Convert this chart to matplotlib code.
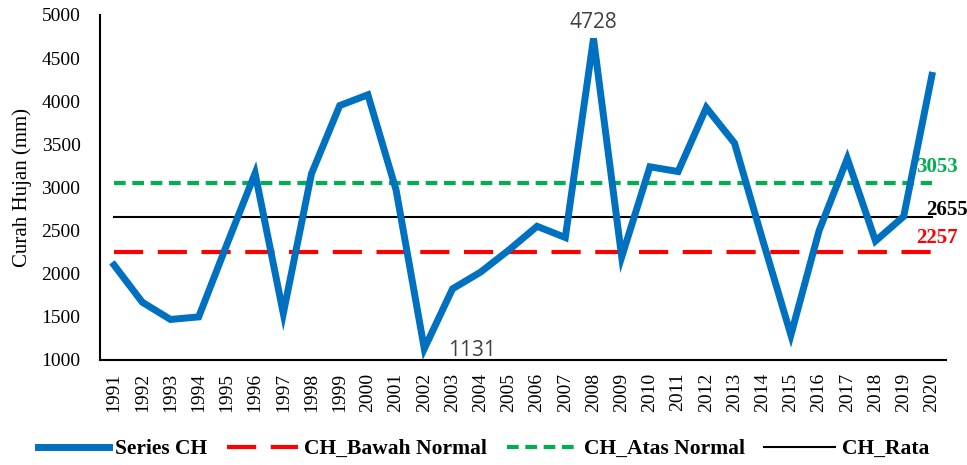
import matplotlib.pyplot as plt

# data
years = [str(y) for y in range(1991, 2021)]
series_ch = [2100, 1670, 1470, 1500, 2340, 3165, 1540, 3160, 3950, 4075,
             2970, 1131, 1825, 2020, 2275, 2550, 2420, 4728, 2195, 3240,
             3185, 3925, 3515, 2390, 1290, 2500, 3335, 2380, 2665, 4300]
ch_bawah = 2257
ch_atas = 3053
ch_rata = 2655

x = list(range(len(years)))

plt.rcParams['font.family'] = ['Liberation Serif', 'DejaVu Serif']

fig = plt.figure(figsize=(9.67, 4.65), dpi=100)
ax = fig.add_axes([100 / 967, 1 - 360 / 465, 846 / 967, 345 / 465])

ax.plot(x, series_ch, color='#0070C0', lw=5, solid_joinstyle='miter',
        label='Series CH', zorder=4)
ax.plot(x, [ch_bawah] * len(x), color='#FF0000', lw=3, dashes=(7, 3.5),
        label='CH_Bawah Normal', zorder=3)
ax.plot(x, [ch_atas] * len(x), color='#00B050', lw=3, dashes=(2.8, 1.6),
        label='CH_Atas Normal', zorder=3)
ax.plot(x, [ch_rata] * len(x), color='black', lw=1.5, label='CH_Rata', zorder=3)

ax.set_xlim(-0.5, len(x) - 0.5)
ax.set_ylim(1000, 5000)
ax.set_yticks(range(1000, 5001, 500))
ax.set_xticks(x)
ax.set_xticklabels(years, rotation=90, fontsize=14)
ax.tick_params(axis='y', labelsize=14, length=0, pad=14)
ax.tick_params(axis='x', length=0, pad=9)
ax.set_ylabel('Curah Hujan (mm)', fontsize=15)
ax.yaxis.set_label_coords(-68 / 846, 0.5)

for s in ['top', 'right']:
    ax.spines[s].set_visible(False)
ax.spines['left'].set_linewidth(1.5)
ax.spines['bottom'].set_linewidth(1.5)

# data labels
imax = series_ch.index(max(series_ch))
imin = series_ch.index(min(series_ch))
ax.annotate(str(max(series_ch)), (x[imax], series_ch[imax]), xytext=(0, 4),
            textcoords='offset points', ha='center', va='bottom',
            fontsize=15, color='#404040', family='Open Sans')
ax.annotate(str(min(series_ch)), (x[imin], series_ch[imin]), xytext=(34, -1),
            textcoords='offset points', ha='center', va='center',
            fontsize=15, color='#404040', family='Open Sans')

ax.annotate(str(ch_atas), (x[-1], ch_atas), xytext=(-11, 4), textcoords='offset points',
            ha='left', va='bottom', fontsize=15, fontweight='bold', color='#00B050')
ax.annotate(str(ch_rata), (x[-1], ch_rata), xytext=(-4.5, -2), textcoords='offset points',
            ha='left', va='bottom', fontsize=15, fontweight='bold', color='black')
ax.annotate(str(ch_bawah), (x[-1], ch_bawah), xytext=(-11, 2.5), textcoords='offset points',
            ha='left', va='bottom', fontsize=15, fontweight='bold', color='#FF0000')

fig.legend(loc='center', bbox_to_anchor=(0.5, 1 - 449 / 465),
           ncol=4, frameon=False, handlelength=3.3, handletextpad=0.3,
           columnspacing=0.9,
           prop={'weight': 'bold', 'size': 15.5, 'family': 'Liberation Serif'})

fig.savefig('out.png', dpi=100)
